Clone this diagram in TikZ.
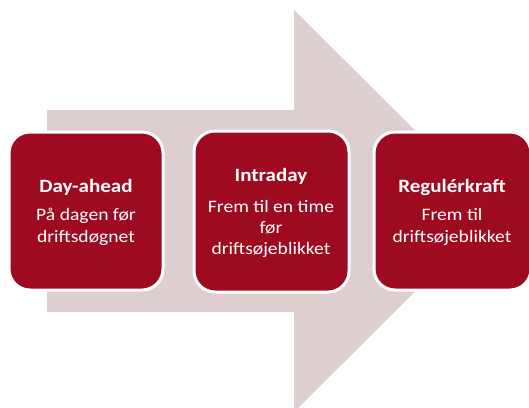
\documentclass[tikz,border=0pt]{standalone}
\usepackage{fontspec}
\setmainfont{Carlito}[FakeStretch=1.12]
\definecolor{boxred}{HTML}{9E0A1F}
\definecolor{arrowpink}{HTML}{DECECF}
\begin{document}
\begin{tikzpicture}[x=1pt,y=-1pt,
  stage/.style={draw=white,line width=3pt,fill=boxred,rounded corners=21pt},
  title/.style={text=white,font=\fontsize{18.8}{22}\selectfont\bfseries,anchor=base,inner sep=0pt},
  body/.style={text=white,font=\fontsize{17.5}{21}\selectfont,anchor=base,inner sep=0pt}]
\useasboundingbox (0,0) rectangle (529,407);
\clip (0,0) rectangle (529,407);
\fill[arrowpink] (47,110) -- (294,110) -- (294,10) -- (496,211) -- (294,412) -- (294,312) -- (47,312) -- cycle;
\draw[stage] (9,132) rectangle (163,290);
\draw[stage] (194,131) rectangle (349,292);
\draw[stage] (374,132) rectangle (531,290);
\node[title] (t1) at (86,192) {Day-ahead};
\node[body] (b1a) at (86,220.5) {På dagen før};
\node[body] (b1b) at (86,242) {driftsdøgnet};
\node[title] (t2) at (271,181) {Intraday};
\node[body] (b2a) at (271,212) {Frem til en time};
\node[body] (b2b) at (271,233) {før};
\node[body] (b2c) at (271,254) {driftsøjeblikket};
\node[title] (t3) at (452,192) {Regulérkraft};
\node[body] (b3a) at (452,220.5) {Frem til};
\node[body] (b3b) at (452,242) {driftsøjeblikket};
\end{tikzpicture}
\end{document}
